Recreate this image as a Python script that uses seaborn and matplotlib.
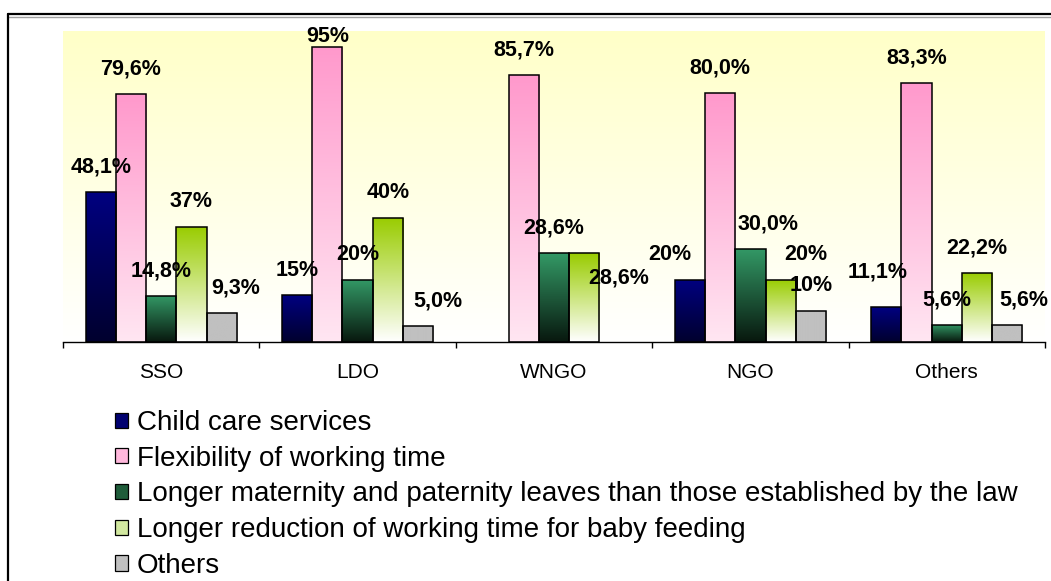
import matplotlib
matplotlib.use("Agg")
import matplotlib.pyplot as plt
from matplotlib.colors import to_rgb
from matplotlib.lines import Line2D
from matplotlib.patches import Patch
import seaborn as sns
import numpy as np
import pandas as pd

# --- data ---
categories = ["SSO", "LDO", "WNGO", "NGO", "Others"]
series = [
    "Child care services",
    "Flexibility of working time",
    "Longer maternity and paternity leaves than those established by the law",
    "Longer reduction of working time for baby feeding",
    "Others",
]
child_care = [48.1, 15.0, 0.0, 20.0, 11.1]
flexibility = [79.6, 95.0, 85.7, 80.0, 83.3]
longer_leaves = [14.8, 20.0, 28.6, 30.0, 5.6]
baby_feeding = [37.0, 40.0, 28.6, 20.0, 22.2]
others = [9.3, 5.0, 0.0, 10.0, 5.6]

# value labels exactly as printed on the chart (blank = no label)
child_care_lbl = ["48,1%", "15%", "", "20%", "11,1%"]
flexibility_lbl = ["79,6%", "95%", "85,7%", "80,0%", "83,3%"]
longer_leaves_lbl = ["14,8%", "20%", "28,6%", "30,0%", "5,6%"]
baby_feeding_lbl = ["37%", "40%", "28,6%", "20%", "22,2%"]
others_lbl = ["9,3%", "5,0%", "", "10%", "5,6%"]

# gradient fills: colour at top of bar, colour at bottom
top_colors = ["#000080", "#FF99CC", "#339966", "#99CC00", "#C0C0C0"]
bottom_colors = ["#00002E", "#FFE6F2", "#08180E", "#FFFFFF", "#C0C0C0"]
legend_colors = ["#000070", "#FFB8DC", "#1F5C3A", "#D2E8A0", "#C0C0C0"]

# a few labels were moved by hand in the original (pixels: dx, dy)
label_nudge = {
    ("SSO", 4): (14, 0),
    ("LDO", 1): (0, -15),
    ("LDO", 4): (20, 0),
    ("WNGO", 3): (34, -50),
    ("NGO", 0): (-20, 0),
    ("NGO", 2): (18, 0),
    ("NGO", 3): (25, 0),
    ("Others", 0): (-9, 10),
    ("Others", 4): (17, 0),
}

values = [child_care, flexibility, longer_leaves, baby_feeding, others]
labels = [child_care_lbl, flexibility_lbl, longer_leaves_lbl, baby_feeding_lbl, others_lbl]

df = pd.DataFrame(
    [(c, s, v[i]) for s, v in zip(series, values) for i, c in enumerate(categories)],
    columns=["category", "series", "value"],
)

sns.set_theme(style="white")
plt.rcParams["font.family"] = ["Liberation Sans", "DejaVu Sans"]
plt.rcParams["text.color"] = "black"
plt.rcParams["xtick.color"] = "black"
plt.rcParams["xtick.labelcolor"] = "black"

W, H = 1051, 581
fig = plt.figure(figsize=(W / 100, H / 100), dpi=100)
ax = fig.add_axes([63 / W, 1 - 342 / H, (1045 - 63) / W, (342 - 31) / H])

sns.barplot(
    data=df, x="category", y="value", hue="series", order=categories,
    hue_order=series, palette=top_colors, width=0.77, gap=0,
    edgecolor="black", linewidth=1.1, legend=False, ax=ax,
)
n = len(categories)

# plot area background: pale yellow fading to white
bg = np.linspace(np.array(to_rgb("#FFFFFF")), np.array(to_rgb("#FFFFC8")), 256)[:, None, :]
ax.imshow(bg, extent=[-0.5, n - 0.5, 0, 100], origin="lower",
          aspect="auto", zorder=0)
ax.set_facecolor("none")

# per-bar vertical gradients + value labels
for k, patch in enumerate(ax.patches):
    s_idx, c_idx = divmod(k, n)
    x, w, h = patch.get_x(), patch.get_width(), patch.get_height()
    patch.set_zorder(3)
    if h <= 0:
        patch.set_visible(False)
        continue
    grad = np.linspace(np.array(to_rgb(bottom_colors[s_idx])),
                       np.array(to_rgb(top_colors[s_idx])), 128)[:, None, :]
    im = ax.imshow(grad, extent=[x, x + w, 0, h], origin="lower",
                   aspect="auto", zorder=2)
    im.set_clip_path(patch)
    patch.set_facecolor("none")

    txt = labels[s_idx][c_idx]
    if txt:
        dx, dy = label_nudge.get((categories[c_idx], s_idx), (0, 0))
        ax.annotate(txt, (x + w / 2, h), xytext=(dx * 0.72, (25 + dy) * 0.72),
                    textcoords="offset points", ha="center", va="center",
                    fontsize=15.5, fontweight="bold", color="black", zorder=5)
ax.set_xlim(-0.5, n - 0.5)
ax.set_ylim(0, 100)

# axes: only a bottom line with outward ticks at category boundaries
for side in ["left", "right", "top"]:
    ax.spines[side].set_visible(False)
ax.spines["bottom"].set_color("black")
ax.spines["bottom"].set_linewidth(1.0)
ax.spines["bottom"].set_zorder(4)
ax.set_yticks([])
ax.set_xticks(range(n))
ax.set_xticklabels(categories, fontsize=15)
ax.set_xticks(np.arange(-0.5, n, 1.0), minor=True)
ax.tick_params(axis="x", which="major", length=0, pad=15, colors="black")
ax.tick_params(axis="x", which="minor", direction="out", length=4.5, width=1,
               color="black", bottom=True)
ax.set_xlabel("")
ax.set_ylabel("")

# legend stacked below the plot
handles = [Patch(facecolor=c, edgecolor="black", linewidth=0.9) for c in legend_colors]
leg = fig.legend(handles, series, loc="upper left", bbox_to_anchor=(115 / W, 1 - 410 / H),
                 frameon=False, fontsize=20, handlelength=0.46, handleheight=0.46,
                 handletextpad=0.33, labelspacing=0.35, borderpad=0, borderaxespad=0)
for t in leg.get_texts():
    t.set_color("black")

# chart frame (left and top edges visible in the crop)
fig.add_artist(Line2D([8 / W, 1], [1 - 16.5 / H, 1 - 16.5 / H], transform=fig.transFigure,
                      color="#A0A0A0", lw=1.0))
fig.add_artist(Line2D([8 / W, 8 / W], [0, 1 - 14 / H], transform=fig.transFigure,
                      color="black", lw=1.6))
fig.add_artist(Line2D([8 / W, 1], [1 - 14 / H, 1 - 14 / H], transform=fig.transFigure,
                      color="black", lw=1.6))

fig.savefig("out.png", dpi=100)
